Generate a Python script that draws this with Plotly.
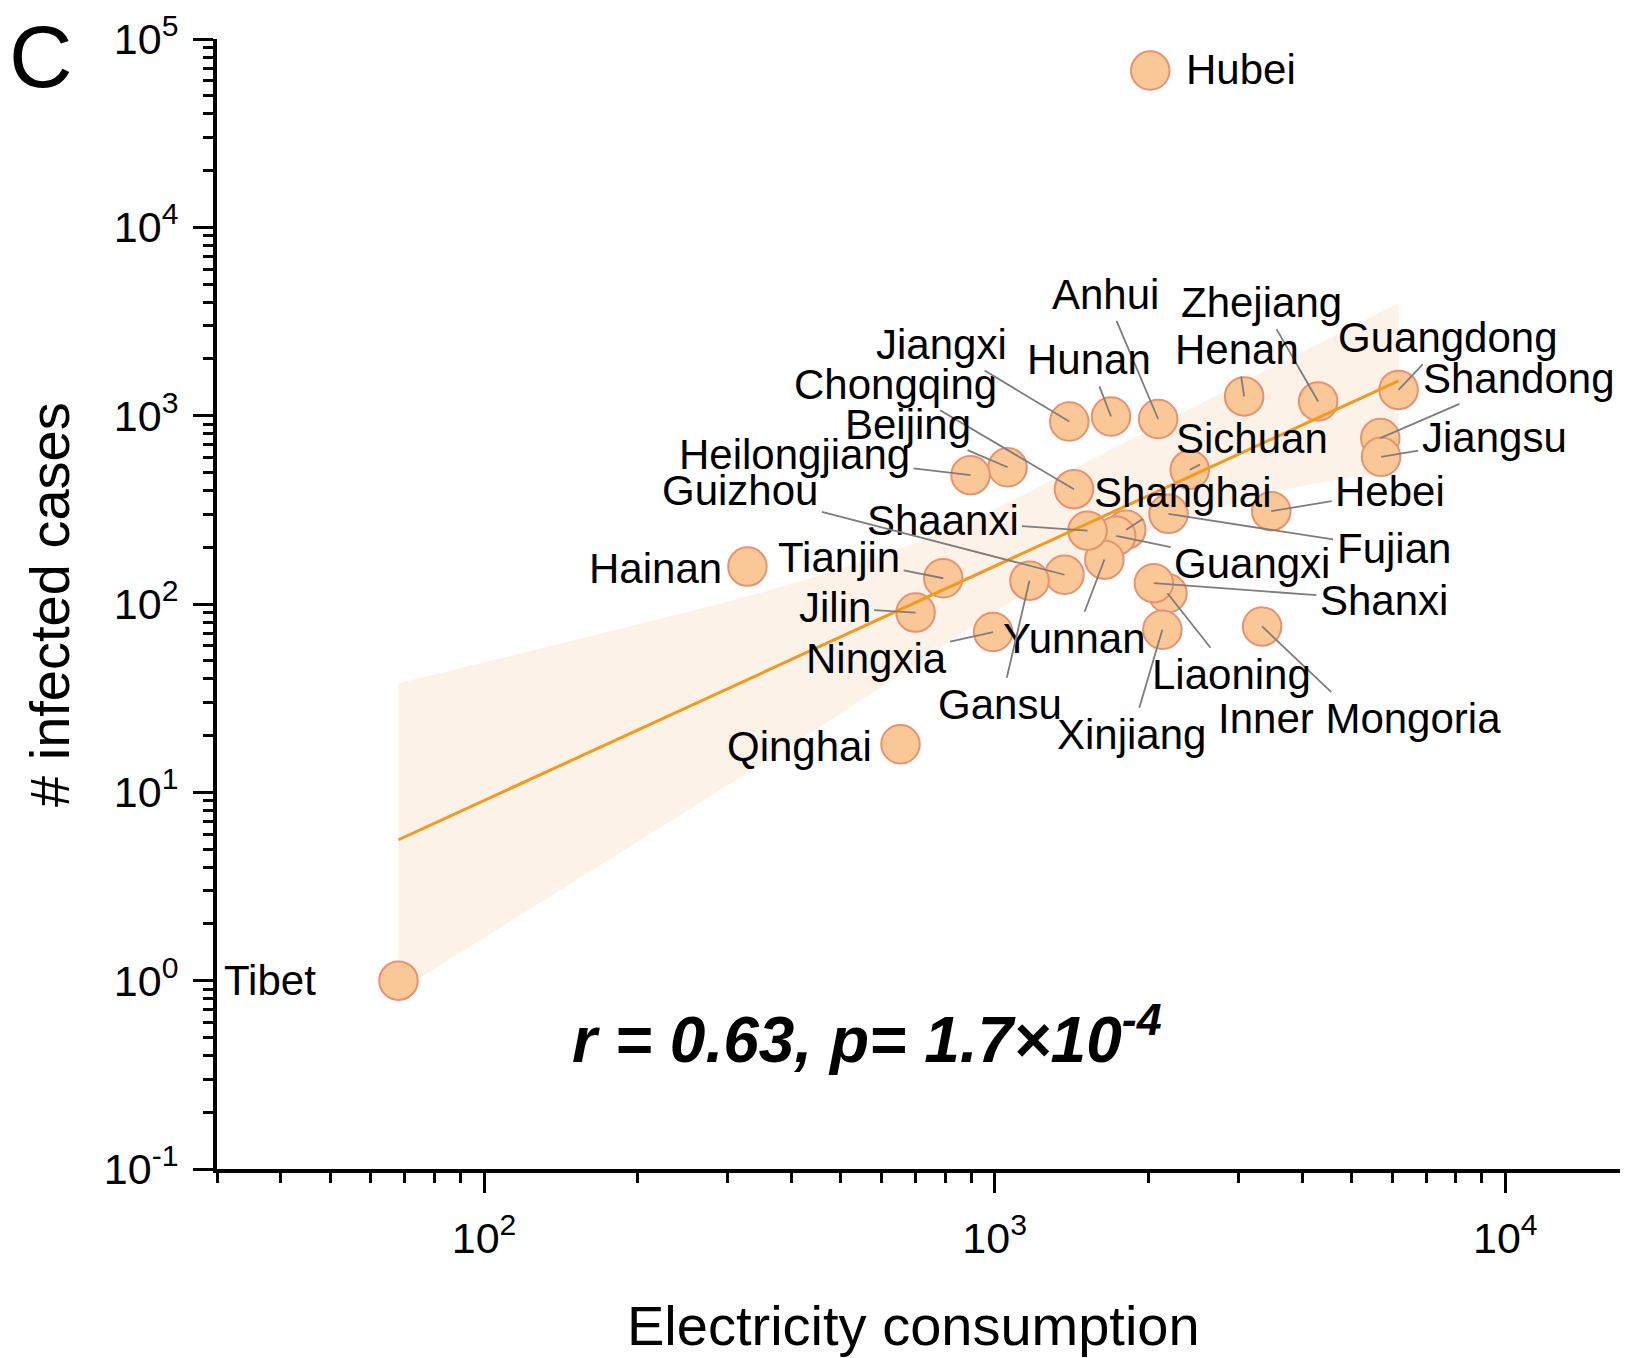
import math
import plotly.graph_objects as go

# ---------------- data ----------------
provinces = ["Hubei", "Guangdong", "Shandong", "Jiangsu", "Zhejiang", "Henan",
             "Hebei", "Inner Mongoria", "Sichuan", "Anhui", "Fujian", "Liaoning",
             "Xinjiang", "Shanxi", "Hunan", "Shanghai", "Guangxi", "Yunnan",
             "Shaanxi", "Chongqing", "Jiangxi", "Guizhou", "Gansu", "Beijing",
             "Ningxia", "Heilongjiang", "Tianjin", "Jilin", "Qinghai", "Hainan",
             "Tibet"]
electricity = [2017, 6180, 5690, 5710, 4300, 3080,
               3480, 3340, 2410, 2090, 2190, 2180,
               2130, 2050, 1690, 1810, 1730, 1640,
               1520, 1430, 1400, 1370, 1170, 1060,
               993, 897, 793, 700, 654, 328,
               68]
cases = [68000, 1370, 760, 605, 1190, 1265,
         311, 76, 516, 960, 301, 114,
         73, 129, 990, 248, 230, 172,
         245, 407, 931, 143, 133, 532,
         71, 483, 137, 90, 18, 158,
         1]

# regression line and its confidence band
fit_x = [68, 6180]
fit_y = [5.6, 1530]
band_upper_x = [68, 308, 477, 858, 1614, 3177, 6180]
band_upper_y = [38, 105, 148, 263, 620, 1590, 3970]
band_lower_x = [68, 328, 598, 1090, 1882, 3556, 6180]
band_lower_y = [0.88, 12.7, 35.9, 105, 227, 395, 515]

stat_text = "<b><i>r = 0.63, p= 1.7\u00d710<sup>-4</sup></i></b>"
panel_letter = "C"
x_title = "Electricity consumption"
y_title = "# infected cases"

y_tickvals = [0.1, 1, 10, 100, 1000, 10000, 100000]
y_ticktext = ["10<sup>-1</sup>", "10<sup>0</sup>", "10<sup>1</sup>", "10<sup>2</sup>",
              "10<sup>3</sup>", "10<sup>4</sup>", "10<sup>5</sup>"]
x_tickvals = [100, 1000, 10000]
x_ticktext = ["10<sup>2</sup>", "10<sup>3</sup>", "10<sup>4</sup>"]

# ---------------- label placement (pixel offsets from the point) ----------------
# (dx, dy, leader line?)  dy positive = downward
label_offsets = {
    "Hubei": (91, -1, False), "Tibet": (-128, 0, False),
    "Hainan": (-92, 2, False), "Qinghai": (-101, 2, False),
    "Jiangxi": (-128, -77, True), "Hunan": (-22, -57, True),
    "Anhui": (-53, -125, True), "Zhejiang": (-57, -99, True),
    "Henan": (-7, -47, True), "Guangdong": (49, -52, True),
    "Shandong": (139, -60, True), "Jiangsu": (113, -19, True),
    "Sichuan": (62, -31, True), "Hebei": (119, -20, True),
    "Fujian": (225, 35, True), "Guangxi": (136, 28, True),
    "Shanxi": (230, 17, True), "Liaoning": (64, 81, True),
    "Inner Mongoria": (97, 92, True), "Xinjiang": (-31, 105, True),
    "Yunnan": (-30, 79, True), "Gansu": (-29, 124, True),
    "Ningxia": (-117, 26, True), "Jilin": (-81, -5, True),
    "Tianjin": (-104, -21, True), "Shaanxi": (-145, -10, True),
    "Guizhou": (-324, -84, True), "Heilongjiang": (-176, -21, True),
    "Beijing": (-100, -43, True), "Chongqing": (-178, -105, True),
    "Shanghai": (57, -37, True),
}

FONT = "Liberation Sans, Arial, sans-serif"
# page has an 8px body margin -> figure is 8px smaller and everything shifted
W, H = 1620, 1350
L, R, T, B = 209, 5, 31, 189
PW, PH = W - L - R, H - T - B          # plot area size (1406 x 1130)
PLOT_LEFT_PAGE, PLOT_BOTTOM_PAGE = 217, 1169

fig = go.Figure()

# confidence band
fig.add_trace(go.Scatter(x=band_lower_x, y=band_lower_y, mode="lines",
                         line=dict(width=0, color="rgba(0,0,0,0)", shape="spline", smoothing=0.8),
                         hoverinfo="skip", showlegend=False))
fig.add_trace(go.Scatter(x=band_upper_x, y=band_upper_y, mode="lines",
                         line=dict(width=0, color="rgba(0,0,0,0)", shape="spline", smoothing=0.8),
                         fill="tonexty", fillcolor="rgb(253,242,231)",
                         hoverinfo="skip", showlegend=False))

# points
fig.add_trace(go.Scatter(x=electricity, y=cases, mode="markers",
                         marker=dict(size=38.5, color="rgb(250,200,150)",
                                     line=dict(color="rgb(231,146,112)", width=2)),
                         text=provinces, hoverinfo="text", showlegend=False))

# regression line
fig.add_trace(go.Scatter(x=fit_x, y=fit_y, mode="lines",
                         line=dict(color="rgb(243,154,30)", width=3),
                         hoverinfo="skip", showlegend=False))

annotations = []
label_font = dict(family=FONT, size=42, color="black")
for name, xv, yv in zip(provinces, electricity, cases):
    dx, dy, leader = label_offsets[name]
    lx, ly = math.log10(xv), math.log10(yv)   # annotations on log axes use log units
    if leader:
        annotations.append(dict(x=lx, y=ly, xref="x", yref="y", text=name,
                                showarrow=True, ax=dx, ay=dy,
                                arrowhead=0, arrowwidth=1.8, arrowcolor="rgb(125,125,125)",
                                standoff=0, startstandoff=2, font=label_font))
    else:
        annotations.append(dict(x=lx, y=ly, xref="x", yref="y", text=name,
                                showarrow=False, xshift=dx, yshift=-dy,
                                xanchor="center", yanchor="middle", font=label_font))


def px_to_paper(page_x, page_y):
    return (page_x - PLOT_LEFT_PAGE) / PW, (PLOT_BOTTOM_PAGE - page_y) / PH


sx, sy = px_to_paper(570, 1035)
annotations.append(dict(text=stat_text, xref="paper", yref="paper", x=sx, y=sy,
                        xanchor="left", yanchor="middle", showarrow=False,
                        font=dict(family=FONT, size=64, color="black")))
cx, cy = px_to_paper(8, 57)
annotations.append(dict(text=panel_letter, xref="paper", yref="paper", x=cx, y=cy,
                        xanchor="left", yanchor="middle", borderpad=0,
                        showarrow=False, font=dict(family=FONT, size=88, color="black")))
tx, ty = px_to_paper(913, 1325)
annotations.append(dict(text=x_title, xref="paper", yref="paper", x=tx, y=ty,
                        xanchor="center", yanchor="middle",
                        showarrow=False, font=dict(family=FONT, size=56, color="black")))
yx, yy = px_to_paper(49, 605)
annotations.append(dict(text=y_title, xref="paper", yref="paper", x=yx, y=yy,
                        xanchor="center", yanchor="middle",
                        textangle=-90, showarrow=False,
                        font=dict(family=FONT, size=56, color="black")))

y_minor = [k * 10 ** e for e in range(-1, 5) for k in range(2, 10)]
x_minor = [k * 10 ** e for e in range(1, 4) for k in range(2, 10) if 30 <= k * 10 ** e <= 17000]

axis_common = dict(showline=True, linewidth=4, linecolor="black", ticks="outside",
                   ticklen=20, tickwidth=3, tickcolor="black", showgrid=False,
                   zeroline=False, mirror=False,
                   tickfont=dict(family=FONT, size=43, color="black"))

fig.update_layout(
    width=W, height=H, margin=dict(l=L, r=R, t=T, b=B, autoexpand=False),
    paper_bgcolor="white", plot_bgcolor="white", showlegend=False,
    annotations=annotations,
    xaxis=dict(type="log", range=[math.log10(30), math.log10(17000)],
               tickmode="array", tickvals=x_tickvals, ticktext=x_ticktext,
               ticklabelstandoff=8,
               minor=dict(tickmode="array", tickvals=x_minor, ticklen=10, tickwidth=3,
                          tickcolor="black", ticks="outside", showgrid=False),
               automargin=False, **axis_common),
    yaxis=dict(type="log", range=[-1, 5],
               tickmode="array", tickvals=y_tickvals, ticktext=y_ticktext,
               ticklabelstandoff=6,
               minor=dict(tickmode="array", tickvals=y_minor, ticklen=10, tickwidth=3,
                          tickcolor="black", ticks="outside", showgrid=False),
               automargin=False, **axis_common),
)

fig.write_html("out.html", config={"displayModeBar": False})
